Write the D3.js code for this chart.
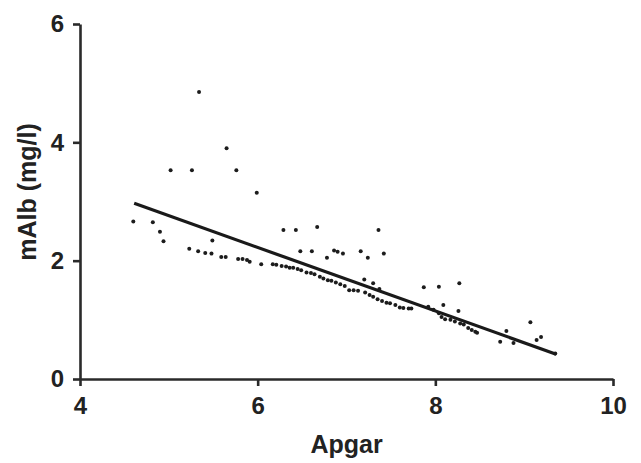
<!DOCTYPE html>
<html>
<head>
<meta charset="utf-8">
<script src="https://cdn.jsdelivr.net/npm/d3@7"></script>
<style>
  body { margin: 0; background: #fff; }
  svg text { font-family: "Liberation Sans", Arial, sans-serif; font-weight: bold; fill: #222; }
</style>
</head>
<body>
<div id="chart"></div>
<script>
"use strict";

// Apgar score (x) and microalbumin (y) for each subject
var apgar = [5.34, 5.02, 5.26, 5.65, 5.76, 5.99,
  6.29, 6.43, 6.67, 7.36, 5.49, 6.48, 6.61, 6.78, 6.86, 6.90, 6.96, 7.16, 7.24, 7.42,
  7.20, 7.30, 7.37, 7.87, 8.04, 8.27, 8.09, 8.26, 8.80, 8.73, 8.88, 9.07, 9.14, 9.19, 9.35,
  4.60, 4.82, 4.90, 4.94, 5.23, 5.33, 5.41, 5.48, 5.59, 5.64, 5.78, 5.83, 5.88, 5.91,
  6.04, 6.17, 6.21, 6.27, 6.32, 6.36, 6.40, 6.45, 6.49, 6.55, 6.60, 6.64, 6.70, 6.74,
  6.79, 6.83, 6.88, 6.93, 6.98, 7.03, 7.08, 7.13, 7.21, 7.26, 7.30, 7.35, 7.40, 7.45,
  7.49, 7.55, 7.60, 7.64, 7.70, 7.73, 7.92, 7.98, 8.04, 8.07, 8.11, 8.17, 8.22, 8.28,
  8.32, 8.37, 8.41, 8.45, 8.47];
var malb = [4.85, 3.53, 3.53, 3.90, 3.53, 3.15,
  2.52, 2.52, 2.57, 2.52, 2.34, 2.16, 2.16, 2.05, 2.17, 2.15, 2.12, 2.16, 2.05, 2.12,
  1.68, 1.62, 1.52, 1.55, 1.56, 1.62, 1.25, 1.15, 0.81, 0.63, 0.61, 0.96, 0.66, 0.71, 0.43,
  2.66, 2.65, 2.49, 2.33, 2.20, 2.16, 2.13, 2.12, 2.06, 2.06, 2.03, 2.03, 2.01, 1.98,
  1.94, 1.94, 1.93, 1.91, 1.90, 1.88, 1.88, 1.86, 1.84, 1.80, 1.79, 1.77, 1.73, 1.70,
  1.67, 1.66, 1.63, 1.60, 1.57, 1.50, 1.50, 1.49, 1.46, 1.42, 1.39, 1.35, 1.32, 1.29,
  1.28, 1.25, 1.21, 1.20, 1.19, 1.19, 1.22, 1.17, 1.11, 1.05, 1.01, 1.00, 0.97, 0.94,
  0.92, 0.86, 0.83, 0.80, 0.78];

// regression line end points
var fitX = [4.61, 9.36];
var fitY = [2.97, 0.42];

var xTicks = [4, 6, 8, 10];
var yTicks = [0, 2, 4, 6];

var width = 641, height = 463;

var x = d3.scaleLinear().domain([4, 10]).range([80, 613]);
var y = d3.scaleLinear().domain([0, 6]).range([379, 24]);

var svg = d3.select("#chart").append("svg")
    .attr("width", width)
    .attr("height", height);

// axes
var xAxis = svg.append("g")
    .attr("transform", "translate(0," + y(0) + ")")
    .call(d3.axisBottom(x).tickValues(xTicks).tickFormat(d3.format("d"))
      .tickSize(7).tickPadding(11).tickSizeOuter(0));

var yAxis = svg.append("g")
    .attr("transform", "translate(" + x(4) + ",0)")
    .call(d3.axisLeft(y).tickValues(yTicks).tickFormat(d3.format("d"))
      .tickSize(7).tickPadding(9).tickSizeOuter(0));

[xAxis, yAxis].forEach(function(a) {
  a.attr("font-size", null).attr("font-family", null);
  a.select(".domain").attr("stroke", "#2a2a2a").attr("stroke-width", 2.6);
  a.selectAll(".tick line").attr("stroke", "#2a2a2a").attr("stroke-width", 2.6);
  a.selectAll(".tick text")
    .style("font-size", "24px")
    .attr("fill", "#222");
});

// points
var pts = apgar.map(function(d, i) { return {a: d, m: malb[i]}; });
svg.append("g").selectAll("circle")
    .data(pts)
  .enter().append("circle")
    .attr("cx", function(d) { return x(d.a); })
    .attr("cy", function(d) { return y(d.m); })
    .attr("r", 2)
    .attr("fill", "#1c1c1c");

// fit line
var line = d3.line()
    .x(function(d) { return x(d[0]); })
    .y(function(d) { return y(d[1]); });

svg.append("path")
    .datum(fitX.map(function(d, i) { return [d, fitY[i]]; }))
    .attr("d", line)
    .attr("fill", "none")
    .attr("stroke", "#1a1a1a")
    .attr("stroke-width", 3.2);

// axis titles
svg.append("text")
    .attr("x", (x(4) + x(10)) / 2)
    .attr("y", 453)
    .attr("text-anchor", "middle")
    .style("font-size", "25px")
    .text("Apgar");

svg.append("text")
    .attr("transform", "translate(36," + 192 + ") rotate(-90)")
    .attr("text-anchor", "middle")
    .style("font-size", "25px")
    .text("mAlb (mg/l)");
</script>
</body>
</html>
